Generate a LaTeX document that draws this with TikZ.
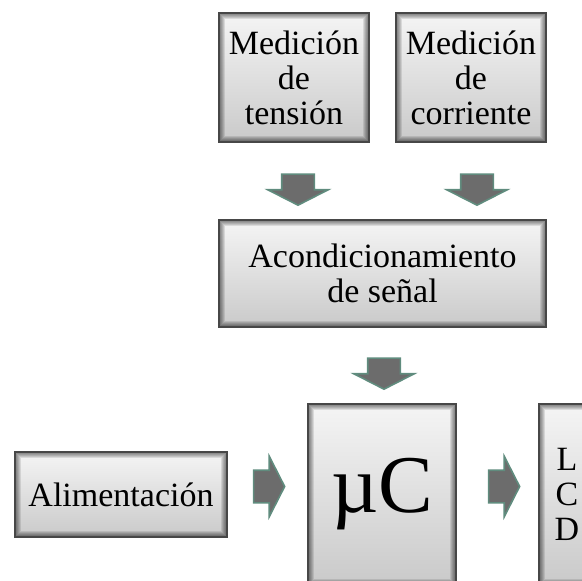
\documentclass[tikz,border=0pt]{standalone}
\usepackage{fontspec}
\setmainfont{Liberation Serif}
\usepackage{xcolor}
\usepackage{tikz}
\usetikzlibrary{shapes.arrows}

\definecolor{bordeflecha}{RGB}{96,140,126}
\definecolor{grisflecha}{RGB}{108,108,108}

\tikzset{
  bloque/.style={rectangle, draw=black!72, line width=2pt, top color=gray!8, bottom color=gray!42,
    align=center, inner sep=0pt, font=\fontsize{34}{35}\selectfont,
    path picture={\foreach \w in {2,4,...,12}
      \draw[black, opacity=0.1, line width=\w pt] (path picture bounding box.south west) rectangle (path picture bounding box.north east);}},
  flecha/.style={single arrow, draw=bordeflecha, fill=grisflecha, line width=1.6pt,
    inner sep=0pt, inner ysep=15.5pt, single arrow head extend=14pt,
    single arrow tip angle=126, minimum height=31pt}
}

\begin{document}
\begin{tikzpicture}[x=1pt, y=-1pt]
        \useasboundingbox (0,0) rectangle (582,581);
        \clip (0,0) rectangle (582,581);

        % Sensors
        \node[bloque, minimum width=150pt, minimum height=129pt] (tension) at (294,77.5) {Medición\\de\\tensión};
        \node[bloque, minimum width=150pt, minimum height=129pt] (corriente) at (471,77.5) {Medición\\de\\corriente};

        % Conditioning
        \node[bloque, minimum width=327pt, minimum height=107pt] (acond) at (382.5,273.5) {Acondicionamiento\\de señal};

        % Bottom row
        \node[bloque, minimum width=212pt, minimum height=85pt] (alim) at (121,494.5) {Alimentación};
        \node[bloque, minimum width=148pt, minimum height=181pt, font=\fontsize{82}{82}\selectfont] (uc) at (382,494.5) {µC};
        \node[bloque, minimum width=56pt, minimum height=181pt] (lcd) at (567,494.5) {L\\C\\D};

        % Block arrows
        \node[flecha, rotate=-90] (f1) at (298,185.5) {};
        \node[flecha, rotate=-90] (f2) at (477,185.5) {};
        \node[flecha, rotate=-90] (f3) at (384,369.5) {};
        \node[flecha] (f4) at (265,486.5) {};
        \node[flecha] (f5) at (500,486.5) {};
    \end{tikzpicture}
\end{document}
